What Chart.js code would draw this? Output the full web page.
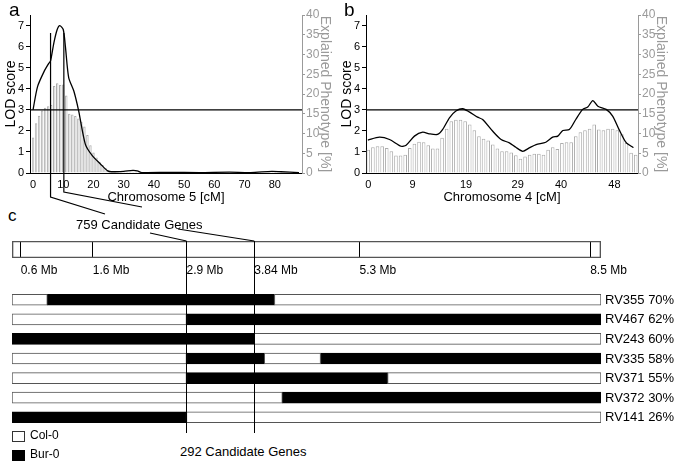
<!DOCTYPE html>
<html><head><meta charset="utf-8">
<script src="https://cdn.jsdelivr.net/npm/chart.js@4.4.0/dist/chart.umd.min.js"></script>
<style>
html,body{margin:0;padding:0;background:#fff;}
#wrap{position:relative;width:675px;height:461px;overflow:hidden;background:#fff;}
canvas{position:absolute;}
.t{position:absolute;font-family:"Liberation Sans",Arial,sans-serif;color:#000;white-space:nowrap;line-height:1;}
</style></head><body>
<div id="wrap">
  <canvas id="ca" width="338" height="205" style="left:0px;top:0px"></canvas>
  <canvas id="cb" width="338" height="205" style="left:336px;top:0px"></canvas>
  <canvas id="cid" width="675" height="50" style="left:0px;top:230px"></canvas>
  <canvas id="chap" width="675" height="145" style="left:0px;top:285px"></canvas>
  <canvas id="cov" width="675" height="461" style="left:0px;top:0px;z-index:5"></canvas>
  <div class="t" style="left:9px;top:0px;font-size:19px">a</div>
  <div class="t" style="left:344px;top:0px;font-size:19px">b</div>
  <div class="t" style="left:8px;top:207px;font-size:17px">c</div>
  <div class="t" style="left:76px;top:218px;font-size:13px">759 Candidate Genes</div>
  <div class="t" style="left:180px;top:445px;font-size:13px">292 Candidate Genes</div>
  <div class="t" style="left:12px;top:431px;width:11px;height:9px;border:1px solid #333;background:#fff"></div>
  <div class="t" style="left:30px;top:429px;font-size:12px">Col-0</div>
  <div class="t" style="left:12px;top:450px;width:11px;height:9px;border:1px solid #000;background:#000"></div>
  <div class="t" style="left:30px;top:448px;font-size:12px">Bur-0</div>
</div>
<script>
const F = "'Liberation Sans', Arial, sans-serif";

// ---------- Panel a: chromosome 5 (cM) ----------
const chr5Ticks = [0, 10, 20, 30, 40, 50, 60, 70, 80];
const chr5TickLabels = ['0', '10', '20', '30', '40', '50', '60', '70', '80'];
// explained phenotype [%] per 1-cM marker, 0..87 cM
const chr5Bars = [9.0,12.6,14.5,15.8,16.5,16.9,17.2,22.0,22.7,22.3,22.4,19.6,15.0,14.8,14.4,13.8,13.0,11.8,9.6,7.0,
  5.2,3.9,2.8,2.0,1.3,0.7,0.3,0.3,0.3,0.3,0.3,0.3,0.3,0.4,0.4,0.3,0.2,0.2,0.2,0.2,
  0.2,0.2,0.2,0.2,0.2,0.2,0.2,0.2,0.2,0.2,0.2,0.2,0.2,0.2,0.2,0.2,0.2,0.2,0.2,0.2,
  0.2,0.2,0.2,0.2,0.2,0.2,0.2,0.2,0.2,0.2,0.2,0.2,0.2,0.2,0.2,0.2,0.2,0.2,0.3,0.4,
  0.4,0.3,0.2,0.2,0.2,0.2,0.2,0.2];
const chr5LodX = [0, 1.5, 3.6, 5.2, 5.8, 6.9, 8.0, 8.85, 10.0, 10.7, 11.8, 13.5, 15.1, 17.3, 19.6, 22.3, 24.7, 26, 30, 33, 34.5, 36, 45, 55, 65, 72, 79, 82, 88];
const chr5LodY = [3.0, 4.1, 4.8, 5.2, 5.32, 6.18, 6.81, 7.0, 6.81, 6.02, 4.53, 3.89, 2.95, 1.37, 0.82, 0.43, 0.1, 0.06, 0.08, 0.12, 0.1, 0.02, 0.03, 0.02, 0.04, 0.02, 0.08, 0.06, 0.02];
const chr5QtlInterval = [5.8, 10.2];   // cM, vertical QTL lines
const chr5QtlTopLod = 6.65;

// ---------- Panel b: chromosome 4 (marker index) ----------
const chr4TickPos = [0, 9.6, 21.2, 32.4, 41.8, 53.4];
const chr4TickLabels = ['0', '9', '19', '29', '40', '48'];
const chr4Bars = [5.9,6.5,6.8,6.8,6.3,5.5,4.4,4.4,4.6,6.3,7.4,7.9,7.8,7.0,6.2,6.2,8.9,11.2,13.1,13.5,
  13.5,13.1,12.3,10.8,9.3,8.7,8.2,7.2,6.2,5.5,5.5,5.2,4.5,3.6,4.2,4.6,4.9,4.9,4.6,5.9,
  6.5,6.1,7.6,7.8,7.8,9.3,10.3,10.8,11.2,12.3,11.0,10.8,11.2,11.2,10.8,9.8,7.6,5.1,4.6];
const chr4LodX = [-0.1, 2.4, 4.6, 7.1, 8.2, 10.0, 11.8, 13.2, 15.0, 16.1, 17.6, 19.0, 20.5, 21.9, 23.7, 24.8, 27.0, 28.8, 30.6, 32.0, 33.5, 34.9, 36.4, 38.5, 40.0, 41.1, 42.2, 43.6, 45.0, 46.5, 47.6, 48.7, 49.8, 51.6, 53.0, 54.4, 55.9, 57.5];
const chr4LodY = [1.56, 1.70, 1.59, 1.27, 1.32, 1.75, 1.94, 1.86, 1.83, 2.06, 2.62, 2.94, 3.05, 2.90, 2.65, 2.54, 1.98, 1.59, 1.43, 1.22, 1.03, 1.19, 1.35, 1.46, 1.70, 1.75, 2.02, 2.06, 2.54, 3.02, 3.13, 3.44, 3.17, 3.02, 2.70, 2.06, 1.45, 1.20];

const lodThreshold = 3;

// ---------- Panel c: physical map (Mb) and recombinant haplotypes ----------
const mbTicks = [0.6, 1.6, 2.9, 3.84, 5.3, 8.5];
const mbTickLabels = ['0.6 Mb', '1.6 Mb', '2.9 Mb', '3.84 Mb', '5.3 Mb', '8.5 Mb'];
const mbRange = [0.48, 8.65];
const candidateInterval = [2.9, 3.84];
const haploRows = ['RV355 70%', 'RV467 62%', 'RV243 60%', 'RV335 58%', 'RV371 55%', 'RV372 30%', 'RV141 26%'];
const col0SegA = [[0.48, 0.97], [0.48, 2.9], [3.84, 8.65], [0.48, 2.9], [0.48, 2.9], [0.48, 4.23], [2.9, 8.65]];
const col0SegB = [[4.12, 8.65], null, null, [3.98, 4.76], [5.69, 8.65], null, null];
const bur0SegA = [[0.97, 4.12], [2.9, 8.65], [0.48, 3.84], [2.9, 3.98], [2.9, 5.69], [4.23, 8.65], [0.48, 2.9]];
const bur0SegB = [null, null, null, [4.76, 8.65], null, null, null];

function lodChart(id, bars, lodX, lodY, xMin, xMax, tickPos, tickLabels, xTitle, barPct) {
  const barData = bars.map((v, i) => ({x: i, y: v}));
  const lineData = lodX.map((x, i) => ({x: x, y: lodY[i]}));
  return new Chart(document.getElementById(id), {
    type: 'bar',
    data: {
      datasets: [
        {type: 'line', data: lineData, xAxisID: 'x', yAxisID: 'y', borderColor: '#000', borderWidth: 1.3,
         pointRadius: 0, tension: 0.25, order: 0},
        {type: 'line', data: [{x: xMin, y: lodThreshold}, {x: xMax, y: lodThreshold}], xAxisID: 'x', yAxisID: 'y',
         borderColor: '#000', borderWidth: 1.2, pointRadius: 0, order: 1},
        {type: 'bar', data: barData, xAxisID: 'x', yAxisID: 'y2', backgroundColor: '#fff', borderColor: '#acacac',
         borderWidth: 1, barPercentage: barPct, categoryPercentage: 1, order: 2}
      ]
    },
    options: {
      responsive: false, animation: false, devicePixelRatio: 1,
      layout: {padding: {top: 15, left: 0, right: 0, bottom: 0}},
      plugins: {legend: {display: false}, tooltip: {enabled: false}},
      scales: {
        x: {type: 'linear', min: xMin, max: xMax, offset: false,
            afterBuildTicks: ax => { ax.ticks = tickPos.map(v => ({value: v})); },
            afterFit: s => { s.height = 32; },
            ticks: {callback: (v, i) => tickLabels[i], color: '#000', font: {size: 11, family: F}, padding: 5, maxRotation: 0, autoSkip: false},
            grid: {display: false, drawTicks: false}, border: {color: '#000', width: 1},
            title: {display: true, text: xTitle, color: '#000', font: {size: 13, family: F}, padding: {top: 0, bottom: 0}}},
        y: {position: 'left', min: 0, max: 7.5,
            afterBuildTicks: ax => { ax.ticks = [0, 1, 2, 3, 4, 5, 6, 7].map(v => ({value: v})); },
            afterFit: s => { s.width = 30; },
            ticks: {color: '#000', font: {size: 11, family: F}, padding: 2},
            grid: {drawOnChartArea: false, color: '#000', tickLength: 4},
            border: {color: '#000', width: 1},
            title: {display: true, text: 'LOD score', color: '#000', font: {size: 14, family: F}, padding: {top: 3, bottom: 0}}},
        y2: {position: 'right', min: 0, max: 40,
            afterBuildTicks: ax => { ax.ticks = [0, 5, 10, 15, 20, 25, 30, 35, 40].map(v => ({value: v})); },
            afterFit: s => { s.width = 36; },
            ticks: {color: '#9a9a9a', font: {size: 12, family: F}, padding: 1},
            grid: {drawOnChartArea: false, color: '#9a9a9a', tickLength: 3},
            border: {color: '#9a9a9a', width: 1},
            title: {display: true, text: 'Explained Phenotype [%]', color: '#9a9a9a', font: {size: 14, family: F}, padding: {top: 5, bottom: 0}}}
      }
    }
  });
}

const chA = lodChart('ca', chr5Bars, chr5LodX, chr5LodY, -1, 89, chr5Ticks, chr5TickLabels, 'Chromosome 5 [cM]', 0.8);
const chB = lodChart('cb', chr4Bars, chr4LodX, chr4LodY, -0.5, 58.5, chr4TickPos, chr4TickLabels, 'Chromosome 4 [cM]', 0.78);

// physical map ideogram
const chId = new Chart(document.getElementById('cid'), {
  type: 'bar',
  data: {labels: ['Chr5'], datasets: [{data: [mbRange], backgroundColor: 'rgba(0,0,0,0)', borderColor: '#555',
    borderWidth: 1, borderSkipped: false, barPercentage: 1, categoryPercentage: 1}]},
  options: {
    indexAxis: 'y', responsive: false, animation: false, devicePixelRatio: 1,
    layout: {padding: {top: 11, left: 12, right: 74, bottom: 0}},
    plugins: {legend: {display: false}, tooltip: {enabled: false}},
    scales: {
      x: {type: 'linear', min: mbRange[0], max: mbRange[1], offset: false,
          afterBuildTicks: ax => { ax.ticks = mbTicks.map(v => ({value: v})); },
          afterFit: s => { s.height = 22; },
          ticks: {callback: (v, i) => mbTickLabels[i], align: 'start', color: '#000', font: {size: 12, family: F}, padding: 5, maxRotation: 0, autoSkip: false},
          grid: {color: '#000', lineWidth: 1, drawTicks: false},
          border: {display: false}},
      y: {display: false}
    }
  }
});

// recombinant haplotypes
function seg(data, color, border, label) {
  return {label: label, data: data, backgroundColor: color, borderColor: border, borderWidth: 1,
    borderSkipped: false, grouped: false, barThickness: 11};
}
const rowLabelPlugin = {
  id: 'rowLabels',
  afterDraw(chart) {
    const {ctx, chartArea, scales} = chart;
    ctx.save();
    ctx.fillStyle = '#000';
    ctx.font = '13px ' + F;
    ctx.textAlign = 'left';
    ctx.textBaseline = 'middle';
    chart.data.labels.forEach((lab, i) => ctx.fillText(lab, chartArea.right + 4, scales.y.getPixelForValue(i) + 0.5));
    ctx.restore();
  }
};
const chHap = new Chart(document.getElementById('chap'), {
  type: 'bar',
  data: {labels: haploRows, datasets: [
    seg(col0SegA, '#fff', '#555', 'Col-0'), seg(col0SegB, '#fff', '#555', 'Col-0'),
    seg(bur0SegA, '#000', '#000', 'Bur-0'), seg(bur0SegB, '#000', '#000', 'Bur-0')]},
  options: {
    indexAxis: 'y', responsive: false, animation: false, devicePixelRatio: 1,
    layout: {padding: {top: 5, left: 12, right: 74, bottom: 3}},
    plugins: {legend: {display: false}, tooltip: {enabled: false}},
    scales: {
      x: {type: 'linear', display: false, min: mbRange[0], max: mbRange[1]},
      y: {display: false}
    }
  },
  plugins: [rowLabelPlugin]
});

// connectors
(function () {
  const ctx = document.getElementById('cov').getContext('2d');
  ctx.strokeStyle = '#000';
  ctx.lineWidth = 1.2;
  const aL = 0, idTop = 230, hapTop = 285;
  const xq1 = aL + chA.scales.x.getPixelForValue(chr5QtlInterval[0]);
  const xq2 = aL + chA.scales.x.getPixelForValue(chr5QtlInterval[1]);
  const yq = chA.scales.y.getPixelForValue(chr5QtlTopLod);
  const boxTop = idTop + chId.chartArea.top;
  const x29 = chId.scales.x.getPixelForValue(candidateInterval[0]);
  const x384 = chId.scales.x.getPixelForValue(candidateInterval[1]);
  const hapBottom = hapTop + chHap.chartArea.bottom + 6;
  const line = pts => { ctx.beginPath(); ctx.moveTo(pts[0][0], pts[0][1]); for (let i = 1; i < pts.length; i++) ctx.lineTo(pts[i][0], pts[i][1]); ctx.stroke(); };
  line([[xq1, yq], [xq1, 197], [105, 214]]);
  line([[xq2, yq], [xq2, 192], [142, 207]]);
  line([[150, 233], [x29, boxTop]]);
  line([[178, 229], [x384, boxTop]]);
  ctx.lineWidth = 1;
  line([[Math.round(x29) + 0.5, boxTop], [Math.round(x29) + 0.5, hapBottom]]);
  line([[Math.round(x384) + 0.5, boxTop], [Math.round(x384) + 0.5, hapBottom]]);
})();
</script>
</body></html>
